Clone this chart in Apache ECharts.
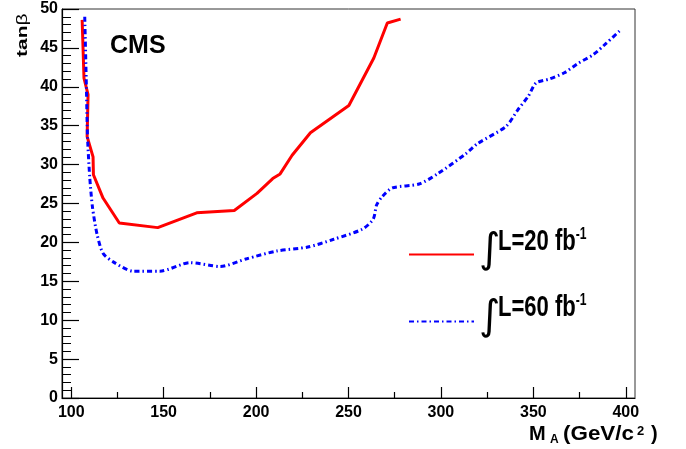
<!DOCTYPE html>
<html>
<head>
<meta charset="utf-8">
<script src="https://cdn.jsdelivr.net/npm/echarts@6/dist/echarts.min.js"></script>
<style>
  html, body { margin: 0; padding: 0; background: #fff; }
  #chart { width: 686px; height: 449px; }
</style>
</head>
<body>
<div id="chart"></div>
<script>
// tick positions
const xTicks = [100, 150, 200, 250, 300, 350, 400];
const xMinorTicks = [125, 175, 225, 275, 325, 375];

// 5 sigma discovery contours, [M_A, tan beta]
const lumi20 = [
  [105.9, 48.6], [106.9, 41.1], [109.1, 39.0], [108.6, 33.6], [111.8, 31.0],
  [112.0, 28.7], [117.2, 25.7], [126.0, 22.5], [146.8, 21.9], [167.9, 23.8],
  [188.2, 24.1], [200.5, 26.3], [209.0, 28.2], [213.0, 28.8], [219.5, 31.2],
  [229.4, 34.1], [250.2, 37.6], [263.7, 43.7], [271.0, 48.2], [278.2, 48.7]
];
const lumi60 = [
  [107.3, 49.0], [108.2, 40.0], [108.8, 33.6], [110.0, 28.4], [111.5, 24.5],
  [114.0, 21.0], [117.2, 18.6], [122.7, 17.5], [133.5, 16.3], [148.0, 16.3],
  [164.3, 17.4], [180.6, 16.9], [195.0, 17.9], [211.3, 18.9], [228.0, 19.4],
  [242.0, 20.4], [257.5, 21.7], [263.4, 23.0], [265.2, 24.8], [268.3, 25.9],
  [273.7, 27.0], [288.2, 27.5], [298.1, 28.8], [313.5, 31.4], [319.8, 32.7],
  [335.2, 34.9], [341.5, 37.0], [347.3, 38.8], [351.5, 40.5], [358.7, 41.0],
  [366.8, 41.8], [374.1, 43.0], [382.2, 44.1], [389.5, 45.6], [397.6, 47.4]
];
const seriesNames = ["L=20 fb", "L=60 fb"];

const font = "Liberation Sans, Arial, Helvetica, sans-serif";
const chart = echarts.init(document.getElementById("chart"));

// legend label (text part), squeezed like the original
function legendText(name, y) {
  return {
    type: "text", x: 498, y: y, scaleX: 0.76,
    style: {
      text: "{t|" + name + "}{s|-1}",
      fill: "#000", verticalAlign: "top",
      rich: {
        t: { fontSize: 29, fontWeight: "bold", fontFamily: font },
        s: { fontSize: 16, fontWeight: "bold", fontFamily: font, verticalAlign: "top" }
      }
    }
  };
}

function label(text, x, y, size, sx) {
  return {
    type: "text", x: x, y: y, scaleX: sx || 1,
    style: { text: text, fill: "#000", verticalAlign: "top", font: "bold " + size + "px " + font }
  };
}

chart.setOption({
  animation: false,
  grid: {
    left: 62, right: 51, top: 9, bottom: 51,
    show: true, borderColor: "#333", borderWidth: 1
  },
  xAxis: [
    {
      type: "value", min: 95, max: 405,
      axisLine: { lineStyle: { color: "#000", width: 1.2 } },
      axisTick: { inside: true, length: 11, customValues: xTicks, lineStyle: { color: "#000", width: 1.2 } },
      axisLabel: {
        customValues: xTicks, margin: 7,
        color: "#000", fontSize: 16, fontWeight: "bold", fontFamily: font
      },
      splitLine: { show: false }
    },
    {
      type: "value", min: 95, max: 405, position: "bottom",
      axisLine: { show: false },
      axisTick: { inside: true, length: 6, customValues: xMinorTicks, lineStyle: { color: "#000", width: 1.2 } },
      axisLabel: { show: false },
      splitLine: { show: false }
    }
  ],
  yAxis: {
    type: "value", min: 0, max: 50, interval: 5,
    axisLine: { lineStyle: { color: "#000", width: 1.2 } },
    axisTick: { inside: true, length: 17, lineStyle: { color: "#000", width: 1.2 } },
    minorTick: { show: true, splitNumber: 5, length: 9, lineStyle: { color: "#000", width: 1 } },
    axisLabel: { margin: 4, color: "#000", fontSize: 16, fontWeight: "bold", fontFamily: font },
    splitLine: { show: false }
  },
  legend: {
    orient: "vertical",
    left: 408, top: 231, padding: 0,
    itemWidth: 65, itemHeight: 10, itemGap: 20,
    itemStyle: { opacity: 0 },
    selectedMode: false,
    data: seriesNames,
    formatter: function () {
      return "{i|\u222B}";
    },
    textStyle: {
      color: "#000",
      rich: {
        i: { fontSize: 41, fontFamily: "DejaVu Sans", lineHeight: 46, verticalAlign: "middle", padding: [0, 0, 6, 0] }
      }
    }
  },
  graphic: [
    {
      type: "text", left: 110, top: 34,
      style: { text: "CMS", fill: "#000", font: "bold 25px " + font }
    },
    {
      type: "text", x: 15, y: 57, rotation: Math.PI / 2, scaleY: 0.74,
      style: {
        text: "{t|tan}{b|\u03B2}",
        fill: "#000",
        rich: {
          t: { fontSize: 21, fontWeight: "bold", fontFamily: font },
          b: { fontSize: 21, fontFamily: font }
        }
      }
    },
    // x axis title: M_A (GeV/c^2 )
    label("M", 529, 424, 20),
    label("A", 550, 434, 12),
    label("(GeV/c", 563, 424, 20, 1.12),
    label("2", 637, 425, 13),
    label(")", 651, 424, 20),
    legendText(seriesNames[0], 227),
    legendText(seriesNames[1], 293)
  ],
  series: [
    {
      name: seriesNames[0], type: "line", data: lumi20,
      symbol: "none", color: "#ff0000",
      lineStyle: { color: "#ff0000", width: 3 }
    },
    {
      name: seriesNames[1], type: "line", data: lumi60,
      symbol: "none", color: "#0000ff", smooth: 0.25,
      lineStyle: { color: "#0000ff", width: 3, type: [5, 3, 1.5, 3] }
    }
  ]
});
</script>
</body>
</html>
